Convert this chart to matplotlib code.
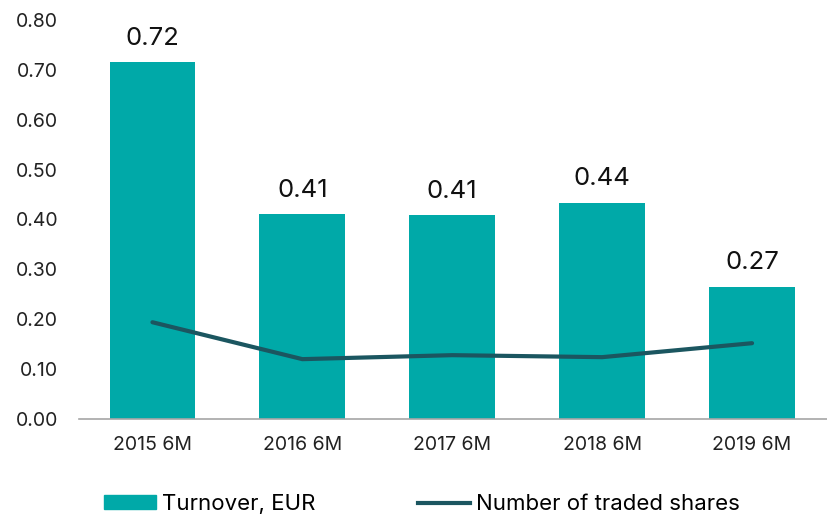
import matplotlib
matplotlib.use("Agg")
import matplotlib.pyplot as plt
from matplotlib.patches import Patch
from matplotlib.lines import Line2D

# Half-year figures
PERIODS = ["2015 6M", "2016 6M", "2017 6M", "2018 6M", "2019 6M"]
TURNOVER = [0.715, 0.411, 0.409, 0.434, 0.265]
TURNOVER_LABELS = ["0.72", "0.41", "0.41", "0.44", "0.27"]
SHARES = [0.194, 0.120, 0.128, 0.124, 0.152]

BAR_COLOR = "#00A9A8"
LINE_COLOR = "#1B5660"

plt.rcParams["font.family"] = ["Inter", "DejaVu Sans"]


def main() -> None:
    fig = plt.figure(figsize=(8.27, 5.14), dpi=100)
    ax = fig.add_axes([79 / 827, 1 - 419 / 514, 748 / 827, 399 / 514])

    x = list(range(len(PERIODS)))
    ax.bar(x, TURNOVER, width=0.573, color=BAR_COLOR, zorder=2)
    ax.plot(x, SHARES, color=LINE_COLOR, lw=3, solid_capstyle="round", zorder=3)

    for xi, v, lab in zip(x, TURNOVER, TURNOVER_LABELS):
        ax.annotate(lab, (xi, v), xytext=(0, 9), textcoords="offset points",
                    ha="center", va="bottom", fontsize=18.5, color="#111111")

    ax.set_ylim(0, 0.8)
    ax.set_xlim(-0.49, 4.5)
    ax.set_yticks([i / 10 for i in range(9)])
    ax.set_yticklabels([f"{i / 10:.2f}" for i in range(9)])
    ax.set_xticks(x)
    ax.set_xticklabels(PERIODS)
    ax.tick_params(axis="both", length=0, labelsize=14, colors="#222222")
    ax.tick_params(axis="x", pad=12)
    ax.tick_params(axis="y", pad=15)
    for side in ("top", "right", "left"):
        ax.spines[side].set_visible(False)
    ax.spines["bottom"].set_color("#A6A6A6")
    ax.spines["bottom"].set_linewidth(1.2)

    handles = [Patch(color=BAR_COLOR, label="Turnover, EUR"),
               Line2D([], [], color=LINE_COLOR, lw=3, label="Number of traded shares")]
    fig.legend(handles=handles, ncol=2, loc="center left",
               bbox_to_anchor=(104 / 827, 1 - 504 / 514), frameon=False,
               fontsize=16, handlelength=2.35, handleheight=0.6,
               handletextpad=0.27, columnspacing=4.6, borderaxespad=0,
               borderpad=0)

    fig.savefig("out.png", dpi=100)


if __name__ == "__main__":
    main()
